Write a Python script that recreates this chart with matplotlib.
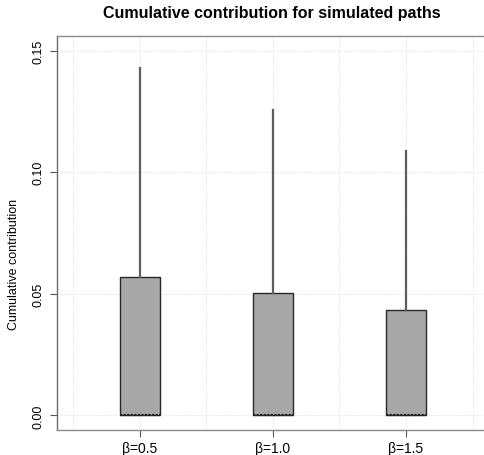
import matplotlib.pyplot as plt
import matplotlib as mpl

mpl.rcParams['font.family'] = ['Liberation Sans', 'DejaVu Sans']

# summary stats per beta (boxes start at zero, median sits on zero)
labels = ["β=0.5", "β=1.0", "β=1.5"]
q1 = [0.0, 0.0, 0.0]
med = [0.0, 0.0, 0.0]
q3 = [0.0568, 0.0503, 0.0434]
whis_lo = [0.0, 0.0, 0.0]
whis_hi = [0.1427, 0.1257, 0.1087]
yticks = [0.00, 0.05, 0.10, 0.15]

stats = []
for i in range(len(labels)):
    stats.append(dict(label=labels[i], q1=q1[i], med=med[i], q3=q3[i],
                      whislo=whis_lo[i], whishi=whis_hi[i], fliers=[]))

fig = plt.figure(figsize=(4.84, 4.56), dpi=100)
ax = fig.add_axes([0.1178, 0.0548, 0.8915, 0.864])

# light dotted grid, R style
for gx in [0.5, 1.0, 1.5, 2.0, 2.5, 3.0, 3.5]:
    ax.axvline(gx, color='#e6e6e6', lw=0.8, ls=(0, (1, 1)), zorder=0)
for gy in yticks:
    ax.axhline(gy, color='#e6e6e6', lw=0.8, ls=(0, (1, 1)), zorder=0)

ax.bxp(stats, positions=[1, 2, 3], widths=0.3, patch_artist=True,
       showcaps=False, showfliers=False,
       boxprops=dict(facecolor='#a8a8a8', edgecolor='#282828', lw=1.0),
       whiskerprops=dict(color='#5e5e5e', lw=1.6, ls='-'),
       medianprops=dict(color='#202020', lw=1.6, ls=(0, (1, 0.6))))

ax.set_xlim(0.38, 3.62)
ax.set_ylim(-0.006, 0.156)
ax.set_yticks(yticks)
ax.set_yticklabels(["0.00", "0.05", "0.10", "0.15"], rotation=90, va='center')
ax.set_xticks([1, 2, 3])
ax.set_xticklabels(labels)
ax.tick_params(axis='y', labelsize=9, color='#555555', length=5, width=0.8, pad=4)
ax.tick_params(axis='x', labelsize=10, color='#555555', length=5, width=0.8, pad=3)

for s in ax.spines.values():
    s.set_color('#8a8a8a')
    s.set_linewidth(1.0)
ax.spines['left'].set_color('#6a6a6a')

fig.text(0.562, 0.971, "Cumulative contribution for simulated paths",
         ha='center', va='center', fontsize=11.5, fontweight='bold')
fig.text(0.028, 0.42, "Cumulative contribution", rotation=90,
         ha='center', va='center', fontsize=9)

fig.savefig("out.png", dpi=100)
